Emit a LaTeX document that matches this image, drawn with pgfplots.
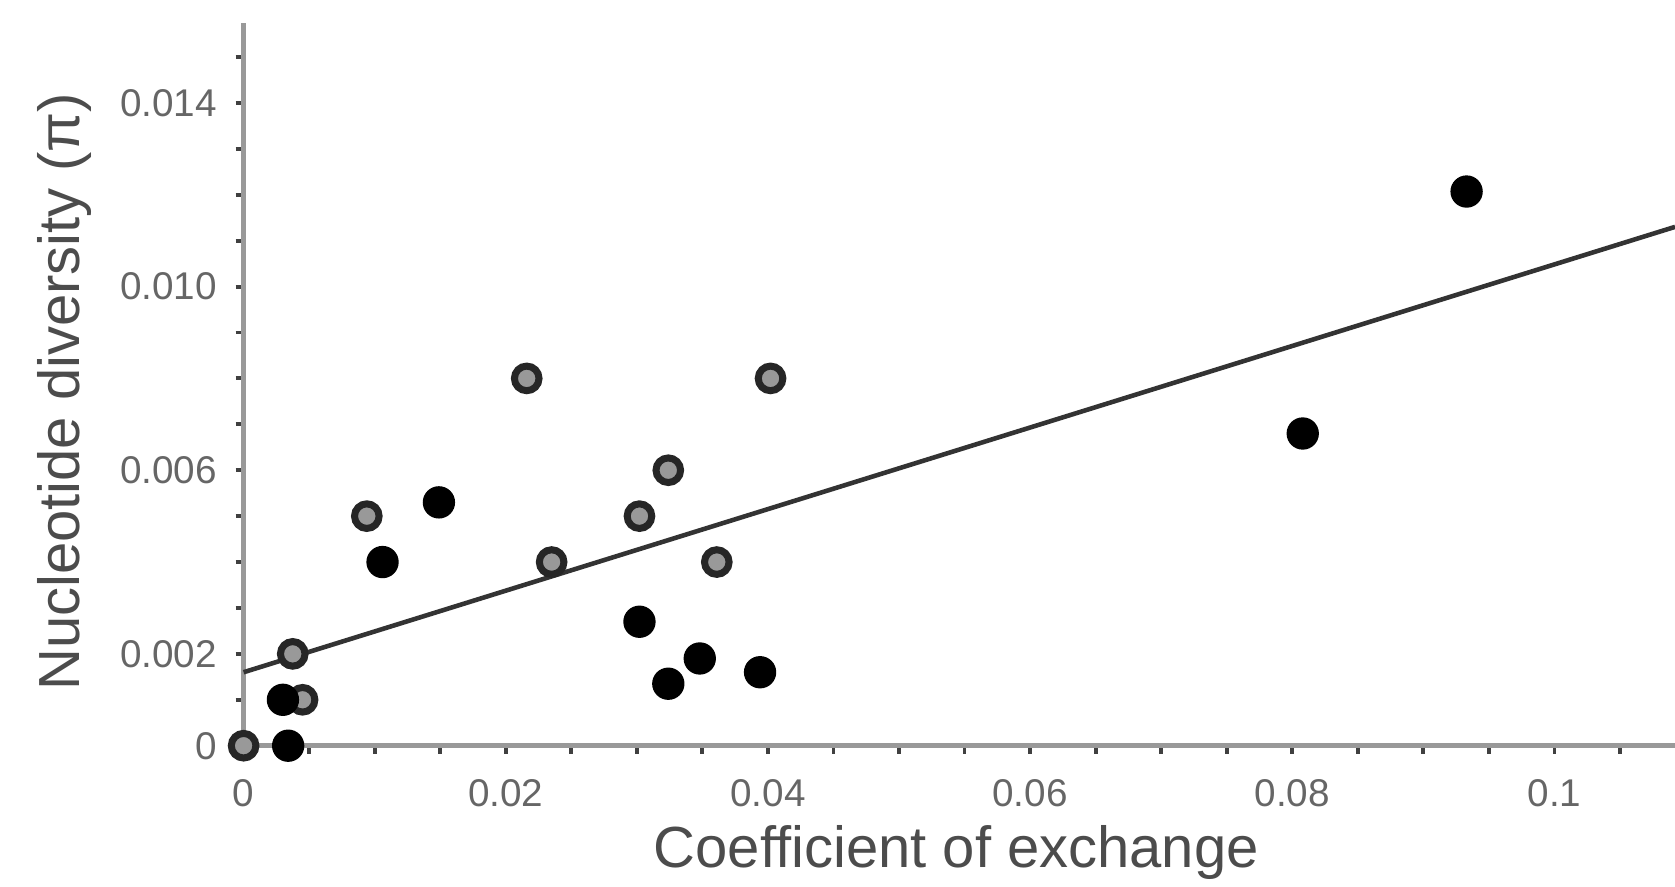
\documentclass[border=0pt]{standalone}
\usepackage{fontspec}
\setmainfont{Liberation Sans}
\usepackage{pgfplots}
\pgfplotsset{compat=1.18}

\begin{document}
\begin{tikzpicture}
\begin{axis}[
    scale only axis,
    width=14.314cm,
    height=7.222cm,
    xmin=0, xmax=0.1092,
    ymin=0, ymax=0.01573,
    axis lines=left,
    axis line style={-, draw=black!40, line width=1.4pt},
    clip=false,
    scaled x ticks=false,
    scaled y ticks=false,
    xtick={0,0.02,0.04,0.06,0.08,0.1},
    xticklabels={0,0.02,0.04,0.06,0.08,0.1},
    minor xtick={0.005,0.01,0.015,0.025,0.03,0.035,0.045,0.05,0.055,0.065,0.07,0.075,0.085,0.09,0.095,0.105},
    ytick={0,0.002,0.006,0.010,0.014},
    yticklabels={0,0.002,0.006,0.010,0.014},
    minor ytick={0.001,0.003,0.004,0.005,0.007,0.008,0.009,0.011,0.012,0.013,0.015},
    tick align=outside,
    major tick length=0.08cm,
    minor tick length=0.08cm,
    tick style={black!75, line width=1.1pt},
    xticklabel style={font=\fontsize{11}{13}\selectfont, text=black!60, anchor=north, inner sep=0pt, yshift=-0.25cm},
    yticklabel style={font=\fontsize{11}{13}\selectfont, text=black!60, anchor=east, inner sep=0pt, xshift=-0.18cm},
    xlabel={Coefficient of exchange},
    ylabel={Nucleotide diversity (π)},
    xlabel style={font=\fontsize{16.5}{19}\selectfont, text=black!70, at={(axis description cs:0.5,0)}, anchor=base, yshift=-1.213cm, xshift=-0.03cm},
    ylabel style={font=\fontsize{16.5}{19}\selectfont, text=black!70, at={(axis description cs:0,0.5)}, anchor=base, yshift=1.636cm, xshift=-0.074cm},
]
\coordinate (bl) at (rel axis cs:0,0);
\coordinate (tr) at (rel axis cs:1,1);

% regression line
\addplot[black!80, line width=1.3pt] coordinates {(0,0.0016) (0.1092,0.0113)};

% open circles
\addplot[only marks, mark=*, mark size=3.5pt,
    mark options={fill=black!40, draw=black!85, line width=2pt}]
    coordinates {
    (0,0) (0.00375,0.002) (0.0045,0.001) (0.0094,0.005) (0.0216,0.008)
    (0.0235,0.004) (0.0302,0.005) (0.0324,0.006) (0.0361,0.004) (0.0402,0.008)
    };

% filled circles
\addplot[only marks, mark=*, mark size=4.4pt,
    mark options={fill=black, draw=black}]
    coordinates {
    (0.003,0.001) (0.0034,0) (0.0106,0.004) (0.0149,0.0053) (0.0302,0.0027)
    (0.0324,0.00135) (0.0348,0.0019) (0.0394,0.0016) (0.0808,0.0068) (0.0933,0.01207)
    };
\end{axis}
\pgfresetboundingbox
\path[use as bounding box] ([shift={(-2.436cm,-1.403cm)}]bl) rectangle ([shift={(0cm,0.235cm)}]tr);
\end{tikzpicture}
\end{document}
